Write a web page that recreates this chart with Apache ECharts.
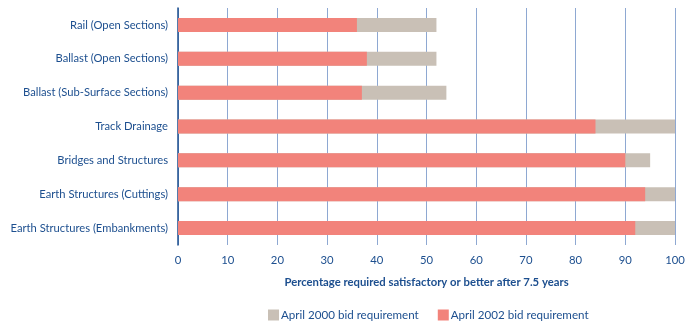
<!DOCTYPE html>
<html><head><meta charset="utf-8">
<script src="https://cdn.jsdelivr.net/npm/echarts@6/dist/echarts.min.js"></script>
<style>html,body{margin:0;padding:0;background:#fff}#c{width:693px;height:324px}</style>
</head><body><div id="c"></div>
<script>
const categories = ["Rail (Open Sections)","Ballast (Open Sections)","Ballast (Sub-Surface Sections)","Track Drainage","Bridges and Structures","Earth Structures (Cuttings)","Earth Structures (Embankments)"];
const req2000 = [52, 52, 54, 100, 95, 100, 100];
const req2002 = [36, 38, 37, 84, 90, 94, 92];
const xTicks = [0,10,20,30,40,50,60,70,80,90,100];
const txt = '#1d4f8f';
const chart = echarts.init(document.getElementById('c'));
chart.setOption({
  animation:false,
  textStyle:{fontFamily:'Lato'},
  grid:{left:178,right:18,top:8,height:237,containLabel:false},
  legend:{
    data:['April 2000 bid requirement','April 2002 bid requirement'],
    left:263, top:304, itemWidth:11, itemHeight:11, itemGap:19,
    icon:'rect',
    textStyle:{color:txt,fontSize:11.6,fontFamily:'Lato',padding:[0,0,0,-3]}
  },
  xAxis:{
    type:'value', min:xTicks[0], max:xTicks[xTicks.length-1], interval:10,
    name:'Percentage required satisfactory or better after 7.5 years',
    nameLocation:'middle', nameGap:32,
    nameTextStyle:{color:txt,fontWeight:'bold',fontSize:11.3,fontFamily:'Lato'},
    axisLine:{show:false}, axisTick:{show:false},
    axisLabel:{color:txt,fontSize:11.3,margin:10},
    splitLine:{show:true,lineStyle:{color:'#8ea8d2',width:1}}
  },
  yAxis:{
    type:'category', data:categories, inverse:true,
    axisLine:{show:true,lineStyle:{color:'#1d4f8f',width:1.5}},
    axisTick:{show:false},
    axisLabel:{color:txt,fontSize:11.2,margin:10}
  },
  series:[
    {name:'April 2000 bid requirement',type:'bar',data:req2000,barWidth:14,barGap:'-100%',itemStyle:{color:'#c9c0b6'},z:2},
    {name:'April 2002 bid requirement',type:'bar',data:req2002,barWidth:14,itemStyle:{color:'#f2837b'},z:3}
  ]
});
</script></body></html>
